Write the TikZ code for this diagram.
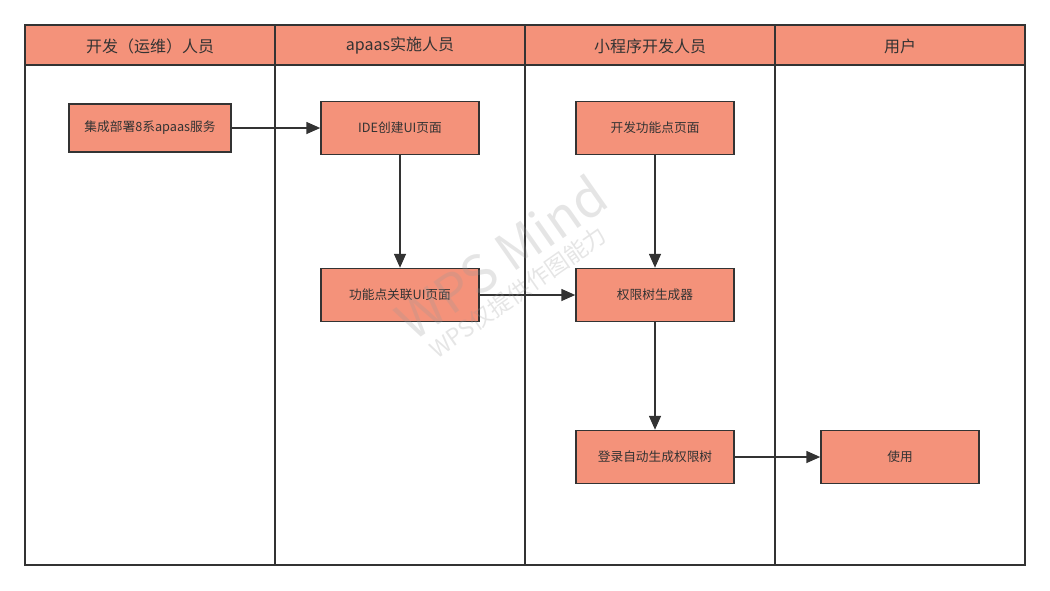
\documentclass[tikz,border=0pt]{standalone}
\usepackage{fontspec}
\setmainfont{Noto Sans CJK SC}
\usetikzlibrary{arrows.meta}
\definecolor{salmon}{HTML}{F4927A}
\definecolor{ink}{HTML}{333333}
\definecolor{mark}{HTML}{999999}
\begin{document}
\begin{tikzpicture}[x=1pt,y=-1pt,
  lane/.style={draw=ink,line width=1.5pt},
  head/.style={font=\fontsize{16}{18}\selectfont,text=ink},
  task/.style={draw=ink,line width=1.5pt,fill=salmon,minimum width=158pt,minimum height=53pt,
    inner sep=0pt,font=\fontsize{12.7}{15}\selectfont,text=ink},
  flow/.style={draw=ink,line width=1.6pt,-{Triangle[length=14pt,width=12pt]}},
  wm/.style={text=mark,text opacity=0.25,rotate=35}]
\useasboundingbox (0,0) rectangle (1050,590);
% header row and lanes
\fill[salmon] (25,25) rectangle (1025,65);
\draw[lane] (25,25) rectangle (1025,565);
\draw[lane] (25,65) -- (1025,65);
\foreach \x in {275,525,775} \draw[lane] (\x,25) -- (\x,565);
\node[head] (h1) at (150,46) {开发（运维）人员};
\node[head] (h2) at (400,46) {apaas实施人员};
\node[head] (h3) at (650,46) {小程序开发人员};
\node[head] (h4) at (900,46) {用户};
% tasks
\node[task,minimum width=162pt,minimum height=48pt] (deploy) at (150,128) {集成部署8系apaas服务};
\node[task] (ide) at (400,128) {IDE创建UI页面};
\node[task] (link) at (400,295) {功能点关联UI页面};
\node[task] (dev) at (655,128) {开发功能点页面};
\node[task] (gen) at (655,295) {权限树生成器};
\node[task] (login) at (655,457) {登录自动生成权限树};
\node[task] (use) at (900,457) {使用};
% flows
\draw[flow] (deploy) -- (ide);
\draw[flow] (ide) -- (link);
\draw[flow] (link) -- (gen);
\draw[flow] (dev) -- (gen);
\draw[flow] (gen) -- (login);
\draw[flow] (login) -- (use);
% watermark over everything
\node[wm,font=\fontsize{52}{56}\selectfont] (w1) at (501,257) {WPS Mind};
\node[wm,font=\fontsize{23}{26}\selectfont] (w2) at (518,292) {WPS仅提供作图能力};
\end{tikzpicture}
\end{document}
